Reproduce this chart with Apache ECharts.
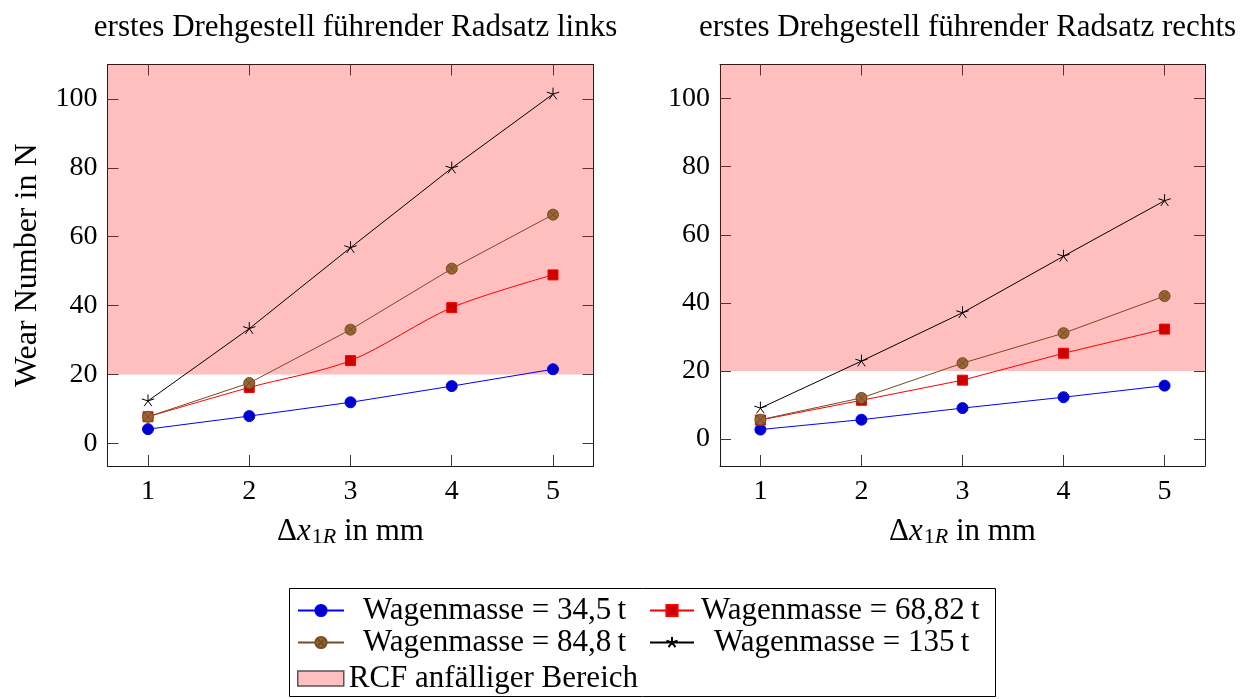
<!DOCTYPE html>
<html>
<head>
<meta charset="utf-8">
<script src="https://cdn.jsdelivr.net/npm/echarts@6/dist/echarts.min.js"></script>
<style>
  html, body { margin: 0; padding: 0; background: #fff; }
  #chart { width: 1249px; height: 699px; }
</style>
</head>
<body>
<div id="chart"></div>
<script>
// Displacement of the first wheelset in mm
const xValues = [1, 2, 3, 4, 5];
const xTicks = [1, 2, 3, 4, 5];
const yTicks = [0, 20, 40, 60, 80, 100];

// Wear number, left wheel
const links34 = [4.1, 7.9, 11.9, 16.6, 21.5];
const links68 = [7.7, 16.2, 24.0, 39.4, 48.9];
const links84 = [7.7, 17.5, 33.0, 50.7, 66.4];
const links135 = [12.3, 33.3, 56.8, 79.9, 101.4];

// Wear number, right wheel
const rechts34 = [2.8, 5.7, 9.1, 12.3, 15.7];
const rechts68 = [5.6, 11.4, 17.3, 25.2, 32.3];
const rechts84 = [5.7, 12.1, 22.3, 31.1, 42.0];
const rechts135 = [9.1, 22.9, 37.1, 53.7, 70.0];

// RCF-prone band
const rcfLower = 20;
const rcfUpper = 110;

const titles = ['erstes Drehgestell führender Radsatz links', 'erstes Drehgestell führender Radsatz rechts'];
const names = ['Wagenmasse = 34,5\u2009t', 'Wagenmasse = 68,82\u2009t', 'Wagenmasse = 84,8\u2009t', 'Wagenmasse = 135\u2009t'];
const rcfName = 'RCF anfälliger Bereich';

const FONT = '"Liberation Serif", "DejaVu Serif", serif';
const FS = 28;      // tick labels
const FT = 31;      // titles, legend, axis names

const starPath = 'path://M0,0L0,-1M0,0L0.951,-0.309M0,0L0.588,0.809M0,0L-0.588,0.809M0,0L-0.951,-0.309M0,1L0,1';
const otimesPath = 'path://M1,0A1,1,0,1,1,-1,0A1,1,0,1,1,1,0ZM-0.707,-0.707L0.707,0.707M-0.707,0.707L0.707,-0.707';

const styles = [
  { symbol: 'circle', symbolSize: 11, line: '#0000ff', fill: '#0000cc', border: '#0000ff', bw: 1 },
  { symbol: 'rect', symbolSize: 10, line: '#ff0000', fill: '#cc0000', border: '#ff0000', bw: 1 },
  { symbol: otimesPath, symbolSize: 11, line: '#734d26', fill: '#996633', border: '#734d26', bw: 1 },
  { symbol: starPath, symbolSize: 13, line: '#000000', fill: 'rgba(0,0,0,0)', border: '#000000', bw: 1 }
];

const panels = [
  { data: [links34, links68, links84, links135], ymin: -6.6, smoothRed: 0.3 },
  { data: [rechts34, rechts68, rechts84, rechts135], ymin: -7.9, smoothRed: 0 }
];

const grids = [
  { left: 107.5, top: 64.5, width: 486, height: 401.5 },
  { left: 720, top: 64.5, width: 485, height: 401.5 }
];

const frameLine = { show: true, onZero: false, lineStyle: { color: '#1a1a1a', width: 1 } };
const tickStyle = { color: '#3a3a3a', width: 1 };

const xAxis = [];
const yAxis = [];
const series = [];

panels.forEach((p, gi) => {
  // bottom x axis with labels
  xAxis.push({
    type: 'value', gridIndex: gi, min: 0.6, max: 5.4, position: 'bottom',
    axisLine: frameLine, splitLine: { show: false },
    axisTick: { show: true, inside: true, length: 11, lineStyle: tickStyle, customValues: xTicks },
    axisLabel: { show: true, customValues: xTicks, margin: 12, color: '#000', fontFamily: FONT, fontSize: FS },
    name: '{d|Δ}{i|x}{s|1}{si|R}{d| in mm}',
    nameLocation: 'middle', nameGap: 50,
    nameTextStyle: {
      rich: {
        d: { fontFamily: FONT, fontSize: FT, color: '#000' },
        i: { fontFamily: FONT, fontSize: FT, fontStyle: 'italic', color: '#000' },
        s: { fontFamily: FONT, fontSize: 22, color: '#000', verticalAlign: 'bottom', padding: [10, 0, 0, 1] },
        si: { fontFamily: FONT, fontSize: 22, fontStyle: 'italic', color: '#000', verticalAlign: 'bottom', padding: [10, 0, 0, 0] }
      }
    }
  });
  // top x axis, ticks only
  xAxis.push({
    type: 'value', gridIndex: gi, min: 0.6, max: 5.4, position: 'top',
    axisLine: frameLine, splitLine: { show: false },
    axisTick: { show: true, inside: true, length: 11, lineStyle: tickStyle, customValues: xTicks },
    axisLabel: { show: false }
  });
  yAxis.push({
    type: 'value', gridIndex: gi, min: p.ymin, max: 110, position: 'left',
    axisLine: frameLine, splitLine: { show: false },
    axisTick: { show: true, inside: true, length: 11, lineStyle: tickStyle, customValues: yTicks },
    axisLabel: { show: true, customValues: yTicks, margin: 10, color: '#000', fontFamily: FONT, fontSize: FS },
    name: gi === 0 ? 'Wear Number in N' : '',
    nameLocation: 'middle', nameGap: 64, nameRotate: 90,
    nameTextStyle: { fontFamily: FONT, fontSize: 32, color: '#000' }
  });
  yAxis.push({
    type: 'value', gridIndex: gi, min: p.ymin, max: 110, position: 'right',
    axisLine: frameLine, splitLine: { show: false },
    axisTick: { show: true, inside: true, length: 11, lineStyle: tickStyle, customValues: yTicks },
    axisLabel: { show: false }
  });

  // RCF band
  series.push({
    name: rcfName, type: 'line', xAxisIndex: gi * 2, yAxisIndex: gi * 2, data: [],
    z: 1, silent: true,
    itemStyle: { color: '#ffbfbf' },
    markArea: {
      silent: true,
      itemStyle: { color: 'rgba(255,0,0,0.25)' },
      data: [[{ yAxis: rcfLower }, { yAxis: rcfUpper }]]
    }
  });

  p.data.forEach((vals, si) => {
    const st = styles[si];
    series.push({
      name: names[si], type: 'line', xAxisIndex: gi * 2, yAxisIndex: gi * 2, z: 3,
      data: xValues.map((x, k) => [x, vals[k]]),
      smooth: si === 1 ? p.smoothRed : 0,
      symbol: st.symbol, symbolSize: st.symbolSize, symbolKeepAspect: true,
      showAllSymbol: true,
      lineStyle: { color: st.line, width: 1 },
      itemStyle: { color: st.fill, borderColor: st.border, borderWidth: st.bw },
      emphasis: { disabled: true },
      animation: false
    });
  });
});

const legendText = { fontFamily: FONT, fontSize: FT, color: '#000', lineHeight: 30 };
function legendAt(name, left, top, itemWidth, pad) {
  return {
    data: [name], left: left, top: top, padding: 0, orient: 'horizontal',
    itemWidth: itemWidth, itemHeight: 14, selectedMode: false,
    textStyle: Object.assign({}, legendText, { padding: [0, 0, 0, pad] })
  };
}

const option = {
  animation: false,
  backgroundColor: '#fff',
  title: [
    { text: titles[0], left: 350.5, top: 7, textAlign: 'center', textStyle: { fontFamily: FONT, fontSize: FT, fontWeight: 'normal', color: '#000' } },
    { text: titles[1], left: 962.5, top: 7, textAlign: 'center', textStyle: { fontFamily: FONT, fontSize: FT, fontWeight: 'normal', color: '#000' } }
  ],
  grid: grids.map(g => Object.assign({ containLabel: false }, g)),
  xAxis: xAxis,
  yAxis: yAxis,
  legend: [
    legendAt(names[0], 297, 595, 46, 14),
    legendAt(names[1], 649, 595, 44, 2),
    legendAt(names[2], 297, 627, 46, 14),
    legendAt(names[3], 649, 627, 44, 15),
    {
      data: [{ name: rcfName, icon: 'rect', itemStyle: { color: '#ffbfbf', borderColor: '#555', borderWidth: 1.5 } }],
      left: 297, top: 663, padding: 0, itemWidth: 46, itemHeight: 15, selectedMode: false,
      textStyle: Object.assign({}, legendText)
    }
  ],
  graphic: [
    { type: 'rect', shape: { x: 289.5, y: 588.5, width: 706, height: 108 }, style: { fill: 'none', stroke: '#000', lineWidth: 1 }, z: 0 }
  ],
  series: series
};

const chart = echarts.init(document.getElementById('chart'), null, { renderer: 'canvas' });
chart.setOption(option);
</script>
</body>
</html>
